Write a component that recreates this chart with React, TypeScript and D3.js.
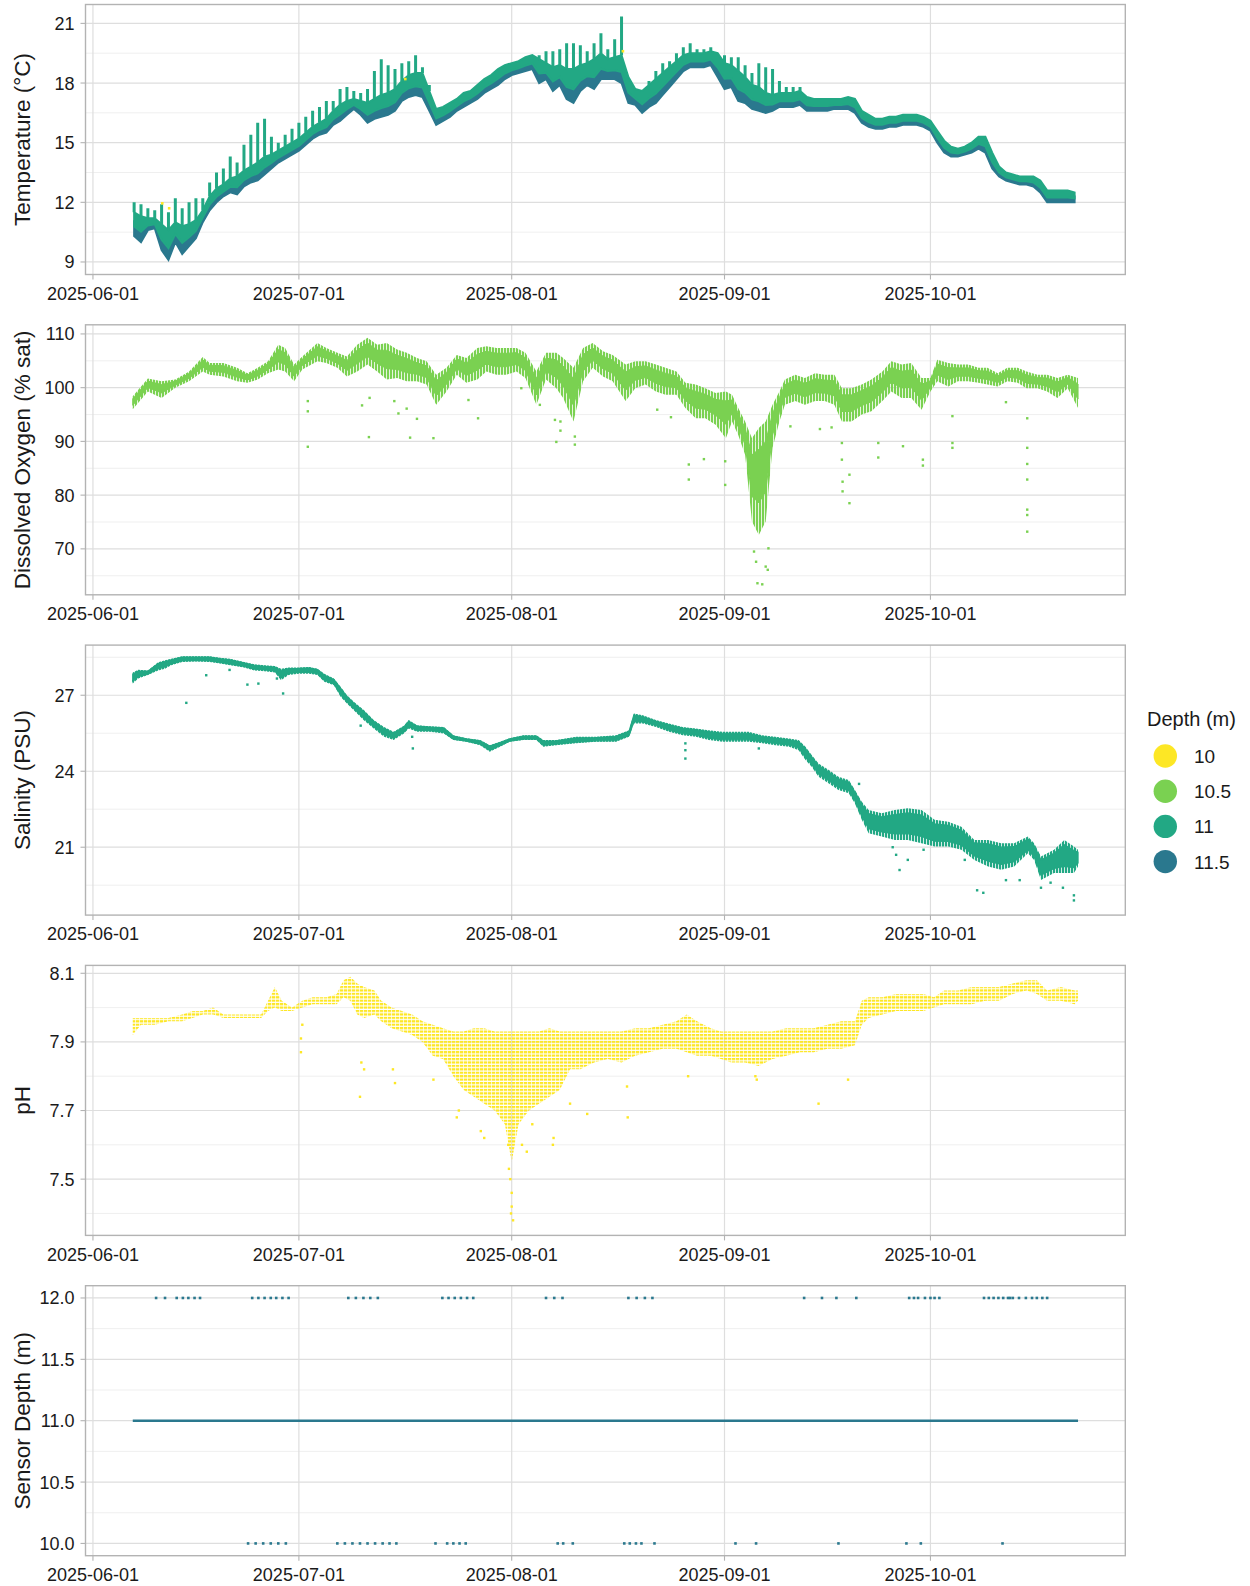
import React from 'react';
import * as d3 from 'd3';

// ---- data (days counted from 2025-06-01) ----
const monthTicks = ['2025-06-01', '2025-07-01', '2025-08-01', '2025-09-01', '2025-10-01'];
const depthLevels = ['10', '10.5', '11', '11.5'];
const depthColors = ['#FDE725', '#7AD151', '#22A884', '#2A788E'];

const recordStart = 5.8;
const recordEnd = 143.5;

// temperature: one record per day (day 6 .. 143)
const tempDays = d3.range(6, 144);
const tempLow = [
  10.3, 10.0, 10.6, 10.7, 9.6, 9.1, 10.0, 9.4, 9.8, 10.2, 11.0, 11.6, 12.0, 12.3, 12.5, 12.4, 12.8, 13.0, 13.1, 13.4,
  13.7, 14.0, 14.2, 14.4, 14.6, 14.9, 15.2, 15.4, 15.5, 15.9, 16.1, 16.4, 16.7, 16.4, 16.0, 16.2, 16.3, 16.4, 16.6, 17.1,
  17.3, 17.4, 17.3, 16.6, 15.9, 16.1, 16.3, 16.6, 16.8, 17.0, 17.2, 17.5, 17.7, 17.9, 18.2, 18.4, 18.5, 18.6, 18.7, 18.0,
  18.2, 17.6, 17.9, 17.2, 17.0, 17.6, 17.9, 17.7, 18.2, 18.2, 18.2, 18.0, 17.0, 16.9, 16.5, 16.8, 17.0, 17.4, 17.8, 18.2,
  18.6, 18.8, 18.8, 18.8, 18.9, 18.3, 17.7, 17.8, 17.1, 17.0, 16.7, 16.6, 16.5, 16.6, 16.8, 16.8, 16.8, 16.9, 16.6, 16.6,
  16.6, 16.6, 16.7, 16.7, 16.7, 16.5, 16.0, 15.8, 15.7, 15.7, 15.8, 15.8, 15.9, 15.9, 15.9, 15.8, 15.6, 15.0, 14.5, 14.3,
  14.3, 14.4, 14.5, 14.7, 14.5, 13.7, 13.3, 13.1, 13.0, 12.9, 12.9, 12.8, 12.5, 12.0, 12.0, 12.0, 12.0, 12.0,
];
const tempHigh = [
  11.5, 11.3, 11.2, 11.2, 10.9, 10.6, 11.0, 10.8, 10.9, 11.1, 11.6, 12.3, 12.7, 12.9, 13.2, 13.3, 13.6, 13.8, 14.0, 14.3,
  14.4, 14.6, 14.8, 15.0, 15.2, 15.5, 15.8, 16.0, 16.2, 16.6, 16.9, 17.1, 17.2, 17.1, 17.0, 17.2, 17.4, 17.5, 17.7, 18.1,
  18.4, 18.5, 18.5, 17.6, 16.7, 16.8, 17.0, 17.2, 17.5, 17.6, 17.9, 18.2, 18.4, 18.7, 18.9, 19.0, 19.1, 19.3, 19.4, 19.2,
  19.0, 18.8, 18.9, 18.7, 18.7, 18.9, 19.0, 19.2, 19.5, 19.2, 19.3, 19.4, 18.3, 17.7, 17.6, 17.9, 18.2, 18.5, 18.8, 19.1,
  19.4, 19.5, 19.5, 19.5, 19.6, 19.5, 19.0, 18.9, 18.6, 18.3, 17.9, 17.8, 17.5, 17.4, 17.5, 17.5, 17.5, 17.6, 17.3, 17.2,
  17.2, 17.2, 17.2, 17.2, 17.3, 17.2, 16.6, 16.4, 16.2, 16.2, 16.3, 16.3, 16.4, 16.4, 16.4, 16.3, 16.1, 15.6, 15.1, 14.8,
  14.7, 14.8, 15.0, 15.3, 15.3, 14.5, 13.8, 13.5, 13.4, 13.3, 13.3, 13.3, 13.1, 12.6, 12.6, 12.6, 12.6, 12.5,
];
const tempPeak = [
  12.0, 11.9, 11.7, 11.6, 11.9, 11.5, 12.2, 11.7, 12.0, 12.2, 12.2, 13.0, 13.5, 13.7, 14.3, 14.0, 14.9, 15.4, 16.0, 16.2,
  15.3, 15.0, 15.4, 15.7, 16.0, 16.3, 16.6, 16.8, 17.1, 17.1, 17.7, 17.8, 17.6, 17.5, 17.7, 18.6, 19.2, 18.9, 18.7, 19.0,
  19.1, 19.4, 18.8, 17.9, null, null, null, null, null, null, null, null, null, null, null, null, null, null, null, 19.4,
  19.6, 19.6, 19.7, 20.0, 20.0, 19.9, 19.6, 20.0, 20.5, 19.7, 20.2, 21.35, null, null, null, 18.1, 18.6, 19.0, 19.1, 19.5,
  19.8, 20.0, 19.7, 19.7, 19.8, null, 19.4, 19.3, 19.3, 18.9, 18.5, 19.0, 18.8, 18.7, 18.1, 17.8, 17.8, 17.8, null, null,
  null, null, null, null, null, null, null, null, null, null, null, null, null, null, null, null, null, null, null, null,
  null, null, null, null, null, null, null, null, null, null, null, null, null, null, null, null, null, null,
];
const tempOddDays = [10.1, 11.1, 77.2, 45.5];
const tempOddValues = [11.95, 11.7, 19.6, 18.2];

// dissolved oxygen
const doDays = [
  5.8, 8, 10, 12, 14, 16, 17, 19, 21, 22.5, 24, 25.5, 27, 28, 29.3, 30.5, 32.7, 34, 35.6, 37, 38.5, 40, 41.4, 42.8, 44.3,
  45.7, 47.2, 48.6, 50, 51.5, 53, 54.4, 56, 57.3, 58.8, 60.2, 61.7, 63, 64.6, 66, 67.5, 68.5, 70, 71.4, 72.8, 74.3, 75.7,
  77.6, 79, 80.5, 82, 83.4, 85, 86.3, 87.8, 89.2, 90.7, 92.2, 93.1, 94, 95, 96, 97, 98, 99, 100, 100.8, 102.3, 103.7,
  105.2, 106.6, 108, 109.1, 110.5, 112, 113.4, 115, 116.3, 117.8, 119.2, 120.7, 122, 123, 124.6, 126, 127.5, 129, 130.3,
  131.8, 133.2, 134.7, 136, 137.6, 139, 140.5, 142, 143.5,
];
const doLow = [
  96.0, 99.3, 98.1, 100.0, 101.2, 103.0, 102.4, 102.1, 101.2, 100.9, 101.5, 102.7, 103.4, 103.0, 101.2, 103.4, 104.9,
  104.6, 103.7, 102.1, 103.0, 104.3, 103.0, 101.5, 101.8, 101.2, 101.2, 100.6, 96.8, 99.3, 102.4, 100.9, 101.5, 103.0,
  102.4, 102.4, 103.0, 101.8, 96.8, 101.5, 99.9, 98.1, 93.7, 101.2, 103.7, 102.1, 101.2, 97.5, 99.9, 100.6, 99.3, 98.7,
  98.7, 96.2, 94.3, 94.3, 93.1, 90.6, 93.7, 91.2, 87.5, 75.1, 72.6, 75.1, 88.8, 93.7, 96.8, 97.5, 96.8, 97.5, 97.5, 96.8,
  93.7, 93.7, 95.0, 95.6, 97.5, 99.3, 98.1, 98.1, 95.9, 99.3, 101.2, 100.2, 101.2, 101.2, 100.9, 100.6, 100.2, 101.2,
  100.9, 99.9, 99.9, 99.3, 98.1, 99.9, 96.2,
];
const doHigh = [
  98.4, 101.7, 101.2, 101.5, 103.0, 105.7, 104.6, 104.6, 103.7, 102.7, 103.7, 104.9, 108.0, 107.4, 104.3, 105.8, 108.3,
  107.4, 106.5, 105.8, 108.0, 109.3, 108.0, 108.3, 107.1, 106.5, 105.5, 104.9, 102.4, 103.7, 106.1, 105.5, 107.4, 107.7,
  107.4, 107.4, 107.4, 106.5, 103.0, 106.5, 106.5, 105.5, 103.7, 107.4, 108.3, 106.8, 106.1, 104.3, 104.9, 104.9, 104.3,
  103.7, 103.0, 100.9, 100.6, 99.9, 99.0, 99.3, 98.7, 96.2, 93.7, 90.6, 92.5, 93.7, 96.8, 99.3, 101.5, 102.4, 101.8,
  102.7, 102.4, 102.4, 99.9, 99.9, 100.6, 101.5, 103.0, 104.9, 104.3, 104.6, 101.8, 101.8, 105.2, 104.6, 104.3, 104.3,
  103.7, 103.7, 102.7, 103.7, 103.7, 103.0, 102.4, 102.4, 101.8, 102.4, 101.8,
];
const doOutDays = [
  31.3, 31.3, 31.3, 39.2, 40.2, 40.3, 43.9, 44.5, 45.7, 46.2, 47.2, 49.6, 54.7, 56.1, 62.4, 65.1, 67.3, 67.5, 68.1, 68.1,
  70.2, 70.2, 82.2, 84.2, 86.8, 86.8, 89.0, 92.1, 92.1, 96.3, 96.6, 96.8, 97.5, 98.0, 98.3, 98.4, 101.6, 105.9, 107.6,
  109.1, 109.1, 109.2, 109.2, 110.2, 110.2, 114.4, 114.4, 118.0, 120.9, 120.9, 125.2, 125.2, 125.2, 133.0, 136.1, 136.1,
  136.1, 136.1, 136.1, 136.1, 136.1,
];
const doOutValues = [
  97.5, 95.6, 89.0, 96.7, 90.8, 98.1, 97.5, 95.2, 96.1, 90.7, 94.2, 90.6, 97.7, 94.3, 99.9, 96.8, 94.0, 89.9, 93.7, 92.0,
  90.9, 89.4, 95.9, 94.5, 85.7, 82.9, 86.7, 86.3, 81.9, 69.5, 67.6, 63.6, 63.4, 66.7, 66.1, 70.1, 92.8, 92.3, 92.6, 89.7,
  86.6, 82.5, 80.7, 83.8, 78.5, 89.7, 87.0, 89.1, 86.6, 85.5, 94.7, 89.7, 88.8, 97.3, 94.3, 88.8, 85.8, 82.9, 77.3, 76.3,
  73.2,
];

// salinity
const salDays = [
  5.8, 6.6, 8, 9.5, 10.5, 11.4, 13, 15, 17, 18.5, 20, 22, 23.5, 25, 26.5, 27.4, 28.5, 30, 31.5, 32.7, 33.7, 35.1, 36.1,
  37, 38, 39.5, 40.9, 42.4, 43.8, 45.3, 46, 47.2, 49.1, 51.1, 52.5, 54.4, 56.4, 57.8, 59.3, 60.7, 62.7, 64.6, 65.6, 67.5,
  70.4, 73.3, 76.2, 78.1, 78.8, 80.1, 82, 83.9, 85.9, 87.8, 89.7, 91.7, 93.6, 95.5, 97.5, 99.4, 101.4, 102.8, 103.8,
  104.7, 105.7, 107.2, 108.6, 110.1, 111, 112, 113, 114.9, 116.8, 118.7, 120.7, 122.6, 124.6, 126.5, 128.4, 130.4, 132.3,
  134.2, 136.2, 137.1, 138.1, 140, 141.5, 142.9, 143.5,
];
const salLow = [
  27.46, 27.66, 27.8, 27.98, 28.05, 28.18, 28.31, 28.33, 28.31, 28.25, 28.18, 28.1, 27.98, 27.95, 27.9, 27.59, 27.8,
  27.85, 27.85, 27.8, 27.53, 27.39, 26.93, 26.67, 26.41, 26.0, 25.69, 25.36, 25.23, 25.49, 25.69, 25.56, 25.56, 25.49,
  25.23, 25.16, 25.03, 24.77, 24.97, 25.16, 25.23, 25.23, 24.97, 25.03, 25.1, 25.16, 25.16, 25.36, 25.88, 25.88, 25.75,
  25.56, 25.42, 25.36, 25.23, 25.16, 25.16, 25.16, 25.1, 25.03, 24.97, 24.83, 24.44, 24.18, 23.78, 23.52, 23.26, 23.13,
  22.73, 22.08, 21.55, 21.42, 21.29, 21.29, 21.16, 21.03, 21.03, 20.9, 20.5, 20.24, 20.11, 20.24, 20.76, 20.5, 19.71,
  19.98, 19.98, 19.98, 20.24,
];
const salHigh = [
  27.9, 28.01, 27.98, 28.3, 28.38, 28.44, 28.54, 28.54, 28.54, 28.48, 28.44, 28.31, 28.22, 28.18, 28.15, 28.05, 28.1,
  28.1, 28.12, 28.05, 27.85, 27.66, 27.33, 27.0, 26.74, 26.41, 26.02, 25.75, 25.56, 25.8, 26.02, 25.82, 25.78, 25.75,
  25.42, 25.3, 25.23, 25.03, 25.16, 25.3, 25.42, 25.42, 25.23, 25.23, 25.36, 25.36, 25.42, 25.62, 26.28, 26.21, 26.02,
  25.88, 25.75, 25.69, 25.62, 25.56, 25.56, 25.56, 25.42, 25.36, 25.29, 25.23, 24.97, 24.64, 24.31, 24.05, 23.78, 23.65,
  23.26, 22.8, 22.47, 22.34, 22.47, 22.54, 22.47, 22.08, 22.01, 21.81, 21.29, 21.29, 21.16, 21.16, 21.42, 21.16, 20.63,
  20.9, 21.29, 21.03, 20.9,
];
const salOutDays = [
  13.6, 16.5, 19.9, 22.5, 24.1, 26.8, 27.7, 39.0, 46.5, 46.6, 86.3, 86.3, 86.3, 97.0, 111.6, 116.5, 117.0, 117.5, 118.7,
  121.0, 127.0, 128.8, 129.7, 133.0, 135.0, 138.1, 139.5, 141.3, 142.9, 142.9,
];
const salOutValues = [
  26.7, 27.79, 28.0, 27.42, 27.46, 27.66, 27.07, 25.8, 25.36, 24.9, 25.1, 24.83, 24.5, 24.9, 23.5, 21.0, 20.7, 20.1, 20.5,
  20.9, 20.5, 19.3, 19.2, 19.7, 19.7, 19.4, 19.6, 19.4, 18.9, 19.1,
];

// pH
const phDays = [
  5.8, 7, 9, 11, 13, 14.5, 16, 17.5, 19, 21, 23, 24.5, 25.5, 26.5, 27.5, 29, 30.5, 32, 34, 35.5, 36.5, 37.5, 38.5, 39.5,
  41, 42, 43.5, 45, 46.5, 48, 49.5, 51, 52.5, 54, 55.5, 57, 58.5, 60, 61, 62, 63.5, 65, 66.5, 68, 69.5, 71, 73, 75, 77,
  79, 81, 83, 85, 86.5, 88, 90, 91.5, 93, 95, 97, 99, 101, 103, 105, 107, 109, 111, 112, 113, 115, 117, 119, 121, 122.5,
  124, 126, 128, 130, 132, 134, 136, 137.5, 139, 141, 143, 143.5,
];
const phLow = [
  7.92, 7.95, 7.95, 7.96, 7.96, 7.97, 7.98, 7.98, 7.97, 7.97, 7.97, 7.97, 7.99, 8.0, 7.99, 7.99, 8.0, 8.01, 8.01, 8.01,
  8.03, 8.02, 7.98, 7.97, 7.98, 7.96, 7.94, 7.93, 7.92, 7.9, 7.86, 7.85, 7.8, 7.76, 7.74, 7.72, 7.7, 7.66, 7.55, 7.66,
  7.7, 7.72, 7.74, 7.76, 7.82, 7.82, 7.84, 7.85, 7.84, 7.86, 7.87, 7.88, 7.88, 7.87, 7.86, 7.86, 7.85, 7.84, 7.84, 7.83,
  7.85, 7.86, 7.87, 7.87, 7.88, 7.88, 7.89, 7.95, 7.97, 7.98, 7.99, 7.99, 7.99, 8.0, 8.01, 8.01, 8.01, 8.02, 8.02, 8.04,
  8.05, 8.04, 8.02, 8.02, 8.01, 8.02,
];
const phHigh = [
  7.97, 7.97, 7.97, 7.97, 7.98, 7.99, 7.99, 8.0, 7.98, 7.98, 7.98, 7.98, 8.02, 8.06, 8.02, 8.0, 8.02, 8.03, 8.03, 8.04,
  8.08, 8.09, 8.07, 8.06, 8.05, 8.02, 8.0, 7.99, 7.98, 7.96, 7.95, 7.94, 7.93, 7.93, 7.94, 7.94, 7.93, 7.93, 7.93, 7.93,
  7.93, 7.93, 7.94, 7.93, 7.93, 7.93, 7.93, 7.93, 7.93, 7.94, 7.94, 7.95, 7.96, 7.98, 7.96, 7.94, 7.93, 7.93, 7.93, 7.93,
  7.93, 7.94, 7.94, 7.94, 7.95, 7.96, 7.96, 8.02, 8.03, 8.03, 8.04, 8.04, 8.04, 8.03, 8.05, 8.05, 8.06, 8.06, 8.06, 8.07,
  8.08, 8.08, 8.05, 8.06, 8.05, 8.05,
];
const phOutDays = [
  30.3, 30.3, 30.5, 38.9, 39.1, 39.5, 43.7, 44.0, 49.6, 53.0, 53.3, 56.5, 57.0, 60.5, 60.6, 60.8, 60.9, 61.0, 61.0, 61.2,
  62.5, 63.2, 64.0, 67.0, 67.1, 69.5, 72.0, 77.8, 77.9, 86.7, 96.5, 96.7, 105.7, 110.0,
];
const phOutValues = [
  7.91, 7.87, 7.95, 7.74, 7.84, 7.82, 7.82, 7.78, 7.79, 7.68, 7.7, 7.64, 7.62, 7.6, 7.53, 7.5, 7.4, 7.46, 7.42, 7.38, 7.6,
  7.58, 7.66, 7.6, 7.62, 7.72, 7.69, 7.77, 7.68, 7.8, 7.8, 7.79, 7.72, 7.79,
];

// sensor depth
const depthLineValue = 11.0;
const depthHighDays = [
  9.2, 10.5, 12.2, 13.1, 13.9, 14.8, 15.6, 23.2, 24.1, 25.0, 25.9, 26.7, 27.6, 28.5, 37.2, 38.3, 39.4, 40.4, 41.5, 50.9,
  51.8, 52.7, 53.6, 54.5, 55.4, 66.0, 67.2, 68.4, 78.0, 79.2, 80.4, 81.5, 103.6, 106.2, 108.3, 111.2, 118.9, 119.6, 120.2,
  121.2, 122.0, 122.6, 123.3, 129.8, 130.5, 131.2, 131.9, 132.6, 133.3, 133.6, 134.0, 134.9, 135.9, 136.8, 137.5, 138.3,
  139.0,
];
const depthLowDays = [
  22.6, 23.7, 24.8, 25.9, 27.0, 28.1, 35.6, 36.7, 37.8, 38.9, 40.0, 41.1, 42.2, 43.2, 44.2, 49.9, 51.6, 52.5, 53.4, 54.3,
  67.7, 68.5, 69.9, 77.4, 78.2, 79.1, 79.9, 81.8, 93.6, 96.6, 108.6, 118.5, 120.6, 132.5,
];

// ---- layout ----
const W = 1250;
const H = 1586;
const LEFT = 85.5;
const RIGHT = 1125.3;
const PANEL_H = 270;
const panelTop = (i: number) => 4.5 + 320.3 * i;
const FONT = '"Liberation Sans", Arial, Helvetica, sans-serif';
const TEXT = '#1A1A1A';

const ORIGIN = Date.UTC(2025, 5, 1);
const toDate = (d: number) => new Date(ORIGIN + d * 86400000);
const parseDay = d3.utcParse('%Y-%m-%d');

const span = recordEnd - recordStart;
const x = d3
  .scaleUtc()
  .domain([toDate(recordStart - span * 0.05), toDate(recordEnd + span * 0.05)])
  .range([LEFT, RIGHT]);

const yScale = (i: number, domain: [number, number]) =>
  d3.scaleLinear().domain(domain).range([panelTop(i) + PANEL_H, panelTop(i)]);

const yTemp = yScale(0, [8.37, 21.95]);
const yDO = yScale(1, [61.45, 111.7]);
const ySal = yScale(2, [18.32, 28.98]);
const yPH = yScale(3, [7.336, 8.123]);
const yDepth = yScale(4, [9.9, 12.1]);

type FrameProps = {
  i: number;
  y: d3.ScaleLinear<number, number>;
  major: number[];
  minor: number[];
  fmt: (v: number) => string;
  title: string;
  children?: React.ReactNode;
};

function Frame({ i, y, major, minor, fmt, title, children }: FrameProps) {
  const top = panelTop(i);
  const bottom = top + PANEL_H;
  return (
    <g>
      <defs>
        <clipPath id={`clip${i}`}>
          <rect x={LEFT} y={top} width={RIGHT - LEFT} height={PANEL_H} />
        </clipPath>
      </defs>
      {minor.map((v) => (
        <line key={'mn' + v} x1={LEFT} x2={RIGHT} y1={y(v)} y2={y(v)} stroke="#EBEBEB" strokeWidth={0.8} />
      ))}
      {major.map((v) => (
        <line key={'mj' + v} x1={LEFT} x2={RIGHT} y1={y(v)} y2={y(v)} stroke="#DEDEDE" strokeWidth={1.2} />
      ))}
      {monthTicks.map((t) => {
        const px = x(parseDay(t) as Date);
        return <line key={'vx' + t} x1={px} x2={px} y1={top} y2={bottom} stroke="#DEDEDE" strokeWidth={1.2} />;
      })}
      <g clipPath={`url(#clip${i})`}>{children}</g>
      <rect x={LEFT} y={top} width={RIGHT - LEFT} height={PANEL_H} fill="none" stroke="#B3B3B3" strokeWidth={1.4} />
      {major.map((v) => (
        <g key={'yt' + v}>
          <line x1={LEFT - 5} x2={LEFT} y1={y(v)} y2={y(v)} stroke="#B3B3B3" strokeWidth={1.1} />
          <text x={LEFT - 11} y={y(v)} dy="0.36em" textAnchor="end" fontSize={18} fill={TEXT}>
            {fmt(v)}
          </text>
        </g>
      ))}
      {monthTicks.map((t) => {
        const px = x(parseDay(t) as Date);
        return (
          <g key={'xt' + t}>
            <line x1={px} x2={px} y1={bottom} y2={bottom + 5} stroke="#B3B3B3" strokeWidth={1.1} />
            <text x={px} y={bottom + 25.3} textAnchor="middle" fontSize={18} fill={TEXT}>
              {t}
            </text>
          </g>
        );
      })}
      <text
        transform={`translate(21.5,${top + PANEL_H / 2}) rotate(-90)`}
        dy="0.36em"
        textAnchor="middle"
        fontSize={22.5}
        fill={TEXT}
      >
        {title}
      </text>
    </g>
  );
}

function Dots({ days, values, y, color, size = 2.4 }: any) {
  return (
    <g fill={color}>
      {days.map((d: number, k: number) => (
        <rect key={k} x={x(toDate(d)) - size / 2} y={y(values[k]) - size / 2} width={size} height={size} />
      ))}
    </g>
  );
}

function bandPath(days: number[], lo: number[], hi: number[], y: d3.ScaleLinear<number, number>) {
  return (
    d3
      .area<number>()
      .x((_, k) => x(toDate(days[k])))
      .y0((_, k) => y(lo[k]))
      .y1((_, k) => y(hi[k]))(days) || ''
  );
}

// part of a band between two fractions of its height
const sub = (lo: number[], hi: number[], f: number) => lo.map((v, k) => v + (hi[k] - v) * f);

export default function App() {
  const rowStep = yPH(8.0) - yPH(8.01);

  const depthLine = d3
    .line<number>()
    .x((d) => x(toDate(d)))
    .y(() => yDepth(depthLineValue))([recordStart, recordEnd]);

  return (
    <svg
      width={W}
      height={H}
      viewBox={`0 0 ${W} ${H}`}
      style={{ position: 'absolute', left: 0, top: 0, background: '#fff' }}
      fontFamily={FONT}
    >
      <defs>
        <pattern
          id="phRows"
          patternUnits="userSpaceOnUse"
          width={4}
          height={rowStep}
          patternTransform={`translate(0,${yPH(8.0) - 1.1})`}
        >
          <rect x={0} y={0} width={3.3} height={2.2} fill="#FDE725" />
        </pattern>
        <pattern id="doHatch" patternUnits="userSpaceOnUse" width={3} height={10}>
          <rect x={0} y={0} width={2.2} height={10} fill="#7AD151" />
        </pattern>
        <pattern id="salHatch" patternUnits="userSpaceOnUse" width={3} height={10}>
          <rect x={0} y={0} width={2.2} height={10} fill="#22A884" />
        </pattern>
      </defs>
      <rect width={W} height={H} fill="#fff" />

      <Frame i={0} y={yTemp} major={[9, 12, 15, 18, 21]} minor={[10.5, 13.5, 16.5, 19.5]} fmt={(v) => String(v)} title="Temperature (°C)">
        {/* deeper sensor (11.5 m) in the lower part of the band, 11 m on top */}
        <path d={bandPath(tempDays, tempLow, sub(tempLow, tempHigh, 0.6), yTemp)} fill="#2A788E" stroke="#2A788E" strokeWidth={2} />
        <path d={bandPath(tempDays, sub(tempLow, tempHigh, 0.4), tempHigh, yTemp)} fill="#22A884" stroke="#22A884" strokeWidth={2} />
        <g stroke="#22A884" strokeWidth={3}>
          {tempDays.map((d, k) =>
            tempPeak[k] == null ? null : (
              <line key={k} x1={x(toDate(d))} x2={x(toDate(d))} y1={yTemp(tempHigh[k])} y2={yTemp(tempPeak[k] as number)} />
            ),
          )}
        </g>
        <Dots days={tempOddDays} values={tempOddValues} y={yTemp} color="#FDE725" size={2.6} />
      </Frame>

      <Frame i={1} y={yDO} major={[70, 80, 90, 100, 110]} minor={[65, 75, 85, 95, 105]} fmt={(v) => String(v)} title="Dissolved Oxygen (% sat)">
        <path d={bandPath(doDays, doLow, doHigh, yDO)} fill="url(#doHatch)" stroke="none" />
        <path d={bandPath(doDays, sub(doLow, doHigh, 0.3), sub(doLow, doHigh, 0.8), yDO)} fill="#7AD151" stroke="#7AD151" strokeWidth={1} />
        <Dots days={doOutDays} values={doOutValues} y={yDO} color="#7AD151" />
      </Frame>

      <Frame i={2} y={ySal} major={[21, 24, 27]} minor={[19.5, 22.5, 25.5, 28.5]} fmt={(v) => String(v)} title="Salinity (PSU)">
        <path d={bandPath(salDays, salLow, salHigh, ySal)} fill="url(#salHatch)" stroke="none" />
        <path d={bandPath(salDays, sub(salLow, salHigh, 0.2), sub(salLow, salHigh, 0.85), ySal)} fill="#22A884" stroke="#22A884" strokeWidth={1.2} />
        <Dots days={salOutDays} values={salOutValues} y={ySal} color="#22A884" />
      </Frame>

      <Frame i={3} y={yPH} major={[7.5, 7.7, 7.9, 8.1]} minor={[7.4, 7.6, 7.8, 8.0]} fmt={(v) => v.toFixed(1)} title="pH">
        <path d={bandPath(phDays, phLow, phHigh, yPH)} fill="url(#phRows)" stroke="none" />
        <Dots days={phOutDays} values={phOutValues} y={yPH} color="#FDE725" />
      </Frame>

      <Frame i={4} y={yDepth} major={[10, 10.5, 11, 11.5, 12]} minor={[10.25, 10.75, 11.25, 11.75]} fmt={(v) => v.toFixed(1)} title="Sensor Depth (m)">
        <path d={depthLine || ''} fill="none" stroke="#2A788E" strokeWidth={2.4} />
        <Dots days={depthHighDays} values={depthHighDays.map(() => 12)} y={yDepth} color="#2A788E" size={2.6} />
        <Dots days={depthLowDays} values={depthLowDays.map(() => 10)} y={yDepth} color="#2A788E" size={2.6} />
      </Frame>

      <g>
        <text x={1147} y={725.7} fontSize={20} fill={TEXT}>
          Depth (m)
        </text>
        {depthLevels.map((lab, k) => (
          <g key={lab}>
            <circle cx={1165.3} cy={756 + 35.2 * k} r={11.7} fill={depthColors[k]} />
            <text x={1194} y={756 + 35.2 * k + 7} fontSize={19} fill={TEXT}>
              {lab}
            </text>
          </g>
        ))}
      </g>
    </svg>
  );
}
